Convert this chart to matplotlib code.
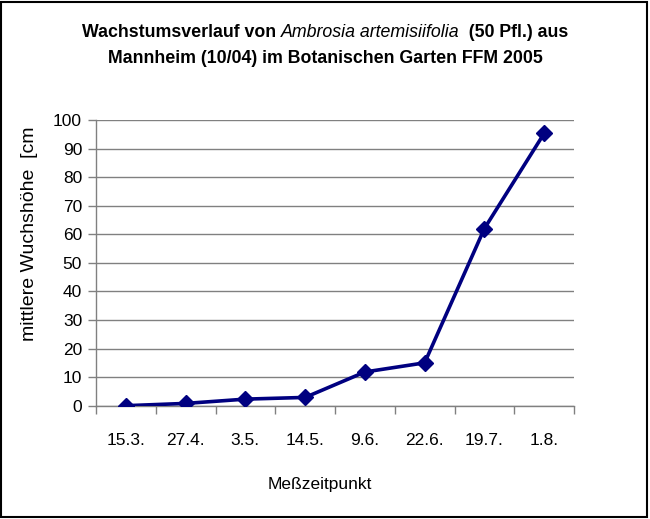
import matplotlib
matplotlib.use('Agg')
import matplotlib.pyplot as plt
from matplotlib.patches import Rectangle

dates = ['15.3.', '27.4.', '3.5.', '14.5.', '9.6.', '22.6.', '19.7.', '1.8.']
height = [0.0, 0.8, 2.3, 2.9, 11.8, 15.0, 62.0, 95.3]
yticks = [0, 10, 20, 30, 40, 50, 60, 70, 80, 90, 100]

plt.rcParams['font.family'] = ['Liberation Sans', 'DejaVu Sans']

W, H = 650, 519
fig = plt.figure(figsize=(6.5, 5.19), dpi=100)
ax = fig.add_axes([96 / W, (H - 405.7) / H, 478 / W, (405.7 - 120) / H])

ax.plot(range(len(dates)), height, color='#000080', lw=2.6,
        marker='D', ms=8, mfc='#000080', mec='#000080', zorder=3)

ax.set_xlim(-0.5, len(dates) - 0.5)
ax.set_ylim(0, 100)
ax.set_yticks(yticks)
ax.set_xticks(range(len(dates)))
ax.set_xticklabels(dates)
ax.set_xticks([i - 0.5 for i in range(len(dates) + 1)], minor=True)
ax.tick_params(axis='x', which='major', length=0, pad=20, labelsize=12.5)
ax.tick_params(axis='x', which='minor', length=6, width=1, color='#808080', direction='out')
ax.tick_params(axis='y', length=6, width=1, color='#808080', pad=4, labelsize=12.5)
ax.grid(axis='y', color='#808080', lw=1)
ax.set_axisbelow(True)
for s in ['top', 'right']:
    ax.spines[s].set_visible(False)
for s in ['left', 'bottom']:
    ax.spines[s].set_color('#808080')
    ax.spines[s].set_linewidth(1)

fig.text(30 / W, 1 - 234 / H, 'mittlere Wuchshöhe  [cm', rotation=90,
         ha='center', va='center', fontsize=14)
fig.text(320 / W, 1 - 485 / H, 'Meßzeitpunkt', ha='center', va='center',
         fontsize=12.5)

# title with italic species name
renderer = fig.canvas.get_renderer()


def title_line(pieces, y):
    texts = []
    for s, style in pieces:
        t = fig.text(0, y, s, fontsize=12.8, fontweight='bold' if style != 'i' else 'normal',
                     fontstyle='italic' if style == 'i' else 'normal',
                     va='baseline', ha='left')
        texts.append(t)
    widths = [t.get_window_extent(renderer).width for t in texts]
    x = (W / 2 - sum(widths) / 2)
    for t, w in zip(texts, widths):
        t.set_x(x / W)
        x += w


title_line([('Wachstumsverlauf von ', 'b'), ('Ambrosia artemisiifolia', 'i'),
            ('  (50 Pfl.) aus', 'b')], 1 - 37 / H)
title_line([('Mannheim (10/04) im Botanischen Garten FFM 2005', 'b')], 1 - 63 / H)

fig.patches.append(Rectangle((0.002, 0.003), 0.994, 0.994, transform=fig.transFigure,
                             fill=False, ec='black', lw=1.5))

fig.savefig('out.png', dpi=100)
